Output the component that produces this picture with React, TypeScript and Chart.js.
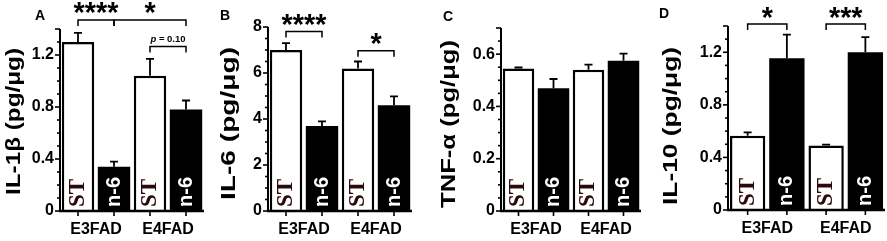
import React, { useEffect, useRef } from 'react';
import { Chart, registerables } from 'chart.js';

Chart.register(...registerables);

const SANS = "'Liberation Sans', Arial, Helvetica, sans-serif";
const SERIF = "'Liberation Serif', 'Times New Roman', serif";

const groups = ['E3FAD', 'E4FAD'];
const seriesLabels = ['ST', 'n-6'];

// Panel A: IL-1β
const il1bST = [1.3, 1.04];
const il1bSTErr = [0.07, 0.13];
const il1bN6 = [0.34, 0.78];
const il1bN6Err = [0.04, 0.07];
const il1bTicks = [0, 0.4, 0.8, 1.2];
const il1bMax = 1.4;
const il1bMinor = 0.1;
// [fromSeries, fromGroup, toSeries, toGroup, level, text]
const il1bSig: any[] = [
  [0, 0, 1, 0, 1.47, '****'],
  [1, 0, 1, 1, 1.47, '*'],
  [0, 1, 1, 1, 1.265, 'p = 0.10'],
];

// Panel B: IL-6
const il6ST = [7.0, 6.2];
const il6STErr = [0.3, 0.3];
const il6N6 = [3.7, 4.6];
const il6N6Err = [0.2, 0.38];
const il6Ticks = [0, 2, 4, 6, 8];
const il6Max = 8;
const il6Minor = 0.5;
const il6Sig: any[] = [
  [0, 0, 1, 0, 7.8, '****'],
  [0, 1, 1, 1, 6.97, '*'],
];

// Panel C: TNF-α
const tnfST = [0.545, 0.54];
const tnfSTErr = [0.004, 0.02];
const tnfN6 = [0.47, 0.575];
const tnfN6Err = [0.035, 0.027];
const tnfTicks = [0, 0.2, 0.4, 0.6];
const tnfMax = 0.7;
const tnfMinor = 0.05;
const tnfSig: any[] = [];

// Panel D: IL-10
const il10ST = [0.565, 0.49];
const il10STErr = [0.025, 0.008];
const il10N6 = [1.155, 1.2];
const il10N6Err = [0.18, 0.115];
const il10Ticks = [0, 0.4, 0.8, 1.2];
const il10Max = 1.4;
const il10Minor = 0.1;
const il10Sig: any[] = [
  [0, 0, 1, 0, 1.415, '*'],
  [0, 1, 1, 1, 1.415, '***'],
];

const H = 241;

const panels = [
  {
    letter: 'A', title: 'IL-1β (pg/μg)', st: il1bST, stErr: il1bSTErr, n6: il1bN6, n6Err: il1bN6Err,
    ticks: il1bTicks, max: il1bMax, minor: il1bMinor, sig: il1bSig,
    left: 0, width: 215, chartLeft: 60, chartRight: 204, top: 29, bottom: 211,
    titleX: 14, titleY: 121.5, titleLen: 147, letterX: 40, letterY: 16,
  },
  {
    letter: 'B', title: 'IL-6 (pg/μg)', st: il6ST, stErr: il6STErr, n6: il6N6, n6Err: il6N6Err,
    ticks: il6Ticks, max: il6Max, minor: il6Minor, sig: il6Sig,
    left: 215, width: 200, chartLeft: 53, chartRight: 197, top: 27, bottom: 211,
    titleX: 14, titleY: 123.5, titleLen: 153, letterX: 10, letterY: 16,
  },
  {
    letter: 'C', title: 'TNF-α (pg/μg)', st: tnfST, stErr: tnfSTErr, n6: tnfN6, n6Err: tnfN6Err,
    ticks: tnfTicks, max: tnfMax, minor: tnfMinor, sig: tnfSig,
    left: 440, width: 205, chartLeft: 61, chartRight: 201, top: 28, bottom: 211,
    titleX: 9.5, titleY: 124, titleLen: 168, letterX: 8, letterY: 17,
  },
  {
    letter: 'D', title: 'IL-10 (pg/μg)', st: il10ST, stErr: il10STErr, n6: il10N6, n6Err: il10N6Err,
    ticks: il10Ticks, max: il10Max, minor: il10Minor, sig: il10Sig,
    left: 657, width: 230, chartLeft: 71, chartRight: 228, top: 26, bottom: 210,
    titleX: 14, titleY: 126, titleLen: 158, letterX: 7, letterY: 14,
  },
];

function makeDeco(cfg: any) {
  return {
    id: 'deco' + cfg.letter,
    afterDatasetsDraw(chart: any) {
      const ctx = chart.ctx;
      const ys = chart.scales.y;
      const area = chart.chartArea;
      const zeroY = ys.getPixelForValue(0);
      const vals = [cfg.st, cfg.n6];
      const errs = [cfg.stErr, cfg.n6Err];
      ctx.save();
      // error bars
      for (let i = 0; i < 2; i++) {
        const meta = chart.getDatasetMeta(i);
        meta.data.forEach((bar: any, j: number) => {
          const top = ys.getPixelForValue(vals[i][j] + errs[i][j]);
          ctx.strokeStyle = '#000';
          ctx.lineWidth = 1.8;
          ctx.beginPath();
          ctx.moveTo(bar.x, bar.y);
          ctx.lineTo(bar.x, top);
          ctx.moveTo(bar.x - 4, top);
          ctx.lineTo(bar.x + 4, top);
          ctx.stroke();
        });
      }
      // in-bar labels
      for (let i = 0; i < 2; i++) {
        const meta = chart.getDatasetMeta(i);
        meta.data.forEach((bar: any) => {
          ctx.save();
          ctx.translate(bar.x, zeroY - 4);
          ctx.rotate(-Math.PI / 2);
          ctx.textAlign = 'left';
          ctx.textBaseline = 'middle';
          if (i === 0) {
            ctx.font = `bold 23px ${SERIF}`;
            ctx.fillStyle = '#2a0a0a';
          } else {
            ctx.font = `bold 20px ${SANS}`;
            ctx.fillStyle = '#fff';
          }
          ctx.fillText(seriesLabels[i], 0, 0);
          ctx.restore();
        });
      }
      // y axis line and ticks
      const topY = ys.getPixelForValue(cfg.max);
      ctx.strokeStyle = '#000';
      ctx.lineWidth = 2;
      ctx.beginPath();
      ctx.moveTo(area.left, zeroY + 1);
      ctx.lineTo(area.left, topY);
      ctx.stroke();
      const n = Math.round(cfg.max / cfg.minor);
      const majorStep = cfg.ticks[1] - cfg.ticks[0];
      ctx.lineWidth = 1.6;
      for (let k = 0; k <= n; k++) {
        const v = k * cfg.minor;
        const r = v / majorStep;
        const isMajor = Math.abs(r - Math.round(r)) < 1e-6 || k === n;
        const len = isMajor ? 5 : 3;
        const py = ys.getPixelForValue(v);
        ctx.beginPath();
        ctx.moveTo(area.left, py);
        ctx.lineTo(area.left - len, py);
        ctx.stroke();
      }
      // baseline
      ctx.lineWidth = 2.5;
      ctx.beginPath();
      ctx.moveTo(area.left - 1, zeroY);
      ctx.lineTo(area.right, zeroY);
      ctx.stroke();
      // x ticks at bar centres
      ctx.lineWidth = 1.6;
      for (let i = 0; i < 2; i++) {
        chart.getDatasetMeta(i).data.forEach((bar: any) => {
          ctx.beginPath();
          ctx.moveTo(bar.x, zeroY);
          ctx.lineTo(bar.x, zeroY + 5);
          ctx.stroke();
        });
      }
      ctx.restore();
    },
    afterDraw(chart: any) {
      const ctx = chart.ctx;
      const ys = chart.scales.y;
      ctx.save();
      // brackets
      cfg.sig.forEach((s: any) => {
        const b1 = chart.getDatasetMeta(s[0]).data[s[1]];
        const b2 = chart.getDatasetMeta(s[2]).data[s[3]];
        const yb = ys.getPixelForValue(s[4]);
        const x1 = b1.x;
        const x2 = b2.x;
        ctx.strokeStyle = '#000';
        ctx.lineWidth = 1.5;
        ctx.beginPath();
        ctx.moveTo(x1, yb + 6);
        ctx.lineTo(x1, yb);
        ctx.lineTo(x2, yb);
        ctx.lineTo(x2, yb + 6);
        ctx.stroke();
        const cx = (x1 + x2) / 2;
        const text: string = s[5];
        ctx.fillStyle = '#000';
        if (text.startsWith('*')) {
          // fit the asterisks to ~11px advance each
          ctx.font = `bold 20px ${SANS}`;
          const w20 = ctx.measureText(text).width;
          const fs = 20 * (11.2 * text.length) / w20;
          ctx.font = `bold ${fs}px ${SANS}`;
          const m = ctx.measureText(text);
          ctx.textAlign = 'center';
          ctx.textBaseline = 'alphabetic';
          const glyphTop = yb - 17.5;
          ctx.fillText(text, cx, glyphTop + m.actualBoundingBoxAscent);
        } else {
          const head = text.slice(0, 1);
          const rest = text.slice(1);
          ctx.textBaseline = 'middle';
          ctx.textAlign = 'left';
          ctx.font = `italic bold 9.5px ${SANS}`;
          const w1 = ctx.measureText(head).width;
          ctx.font = `bold 9.5px ${SANS}`;
          const w2 = ctx.measureText(rest).width;
          const sx = cx - (w1 + w2) / 2;
          ctx.font = `italic bold 9.5px ${SANS}`;
          ctx.fillText(head, sx, yb - 7);
          ctx.font = `bold 9.5px ${SANS}`;
          ctx.fillText(rest, sx + w1, yb - 7);
        }
      });
      // y title
      ctx.save();
      ctx.translate(cfg.titleX, cfg.titleY);
      ctx.rotate(-Math.PI / 2);
      ctx.font = `bold 21px ${SANS}`;
      const w = ctx.measureText(cfg.title).width;
      ctx.scale(cfg.titleLen / w, 1);
      ctx.textAlign = 'center';
      ctx.textBaseline = 'middle';
      ctx.fillStyle = '#000';
      ctx.fillText(cfg.title, 0, 0);
      ctx.restore();
      // panel letter
      ctx.font = `bold 14px ${SANS}`;
      ctx.textAlign = 'center';
      ctx.textBaseline = 'middle';
      ctx.fillStyle = '#000';
      ctx.fillText(cfg.letter, cfg.letterX, cfg.letterY);
      ctx.restore();
    },
  };
}

function buildConfig(cfg: any): any {
  return {
    type: 'bar',
    data: {
      labels: groups,
      datasets: [
        {
          label: seriesLabels[0],
          data: cfg.st,
          backgroundColor: '#ffffff',
          borderColor: '#000000',
          borderWidth: 2.5,
          barPercentage: 0.9,
          categoryPercentage: 1,
        },
        {
          label: seriesLabels[1],
          data: cfg.n6,
          backgroundColor: '#000000',
          borderColor: '#000000',
          borderWidth: 0,
          barPercentage: 0.9,
          categoryPercentage: 1,
        },
      ],
    },
    options: {
      responsive: false,
      animation: false,
      devicePixelRatio: 1,
      layout: {
        padding: { left: 0, right: cfg.width - cfg.chartRight, top: cfg.top, bottom: 0 },
      },
      plugins: {
        legend: { display: false },
        tooltip: { enabled: false },
      },
      scales: {
        x: {
          type: 'category',
          grid: { display: false, drawTicks: false },
          border: { display: false },
          ticks: {
            color: '#000',
            font: { family: SANS, size: 16, weight: 'bold' },
            padding: 9,
            maxRotation: 0,
            autoSkip: false,
          },
          afterFit: (s: any) => {
            s.height = H - cfg.bottom;
          },
        },
        y: {
          type: 'linear',
          min: 0,
          max: cfg.max,
          grid: { display: false, drawTicks: false },
          border: { display: false },
          ticks: {
            color: '#000',
            font: { family: SANS, size: 16, weight: 'bold' },
            padding: 6,
            callback: (v: any) => String(v),
          },
          afterBuildTicks: (s: any) => {
            s.ticks = cfg.ticks.map((v: number) => ({ value: v }));
          },
          afterFit: (s: any) => {
            s.width = cfg.chartLeft;
          },
        },
      },
    },
    plugins: [makeDeco(cfg)],
  };
}

function Panel({ cfg }: { cfg: any }) {
  const ref = useRef<HTMLCanvasElement>(null);
  useEffect(() => {
    const chart = new Chart(ref.current as HTMLCanvasElement, buildConfig(cfg));
    return () => chart.destroy();
  }, [cfg]);
  return (
    <canvas
      ref={ref}
      width={cfg.width}
      height={H}
      style={{ position: 'absolute', left: cfg.left, top: 0, width: cfg.width, height: H }}
    />
  );
}

export default function App() {
  return (
    <div style={{ position: 'absolute', left: 0, top: 0, width: 887, height: H, background: '#fff', overflow: 'hidden' }}>
      {panels.map((p) => (
        <Panel key={p.letter} cfg={p} />
      ))}
    </div>
  );
}
